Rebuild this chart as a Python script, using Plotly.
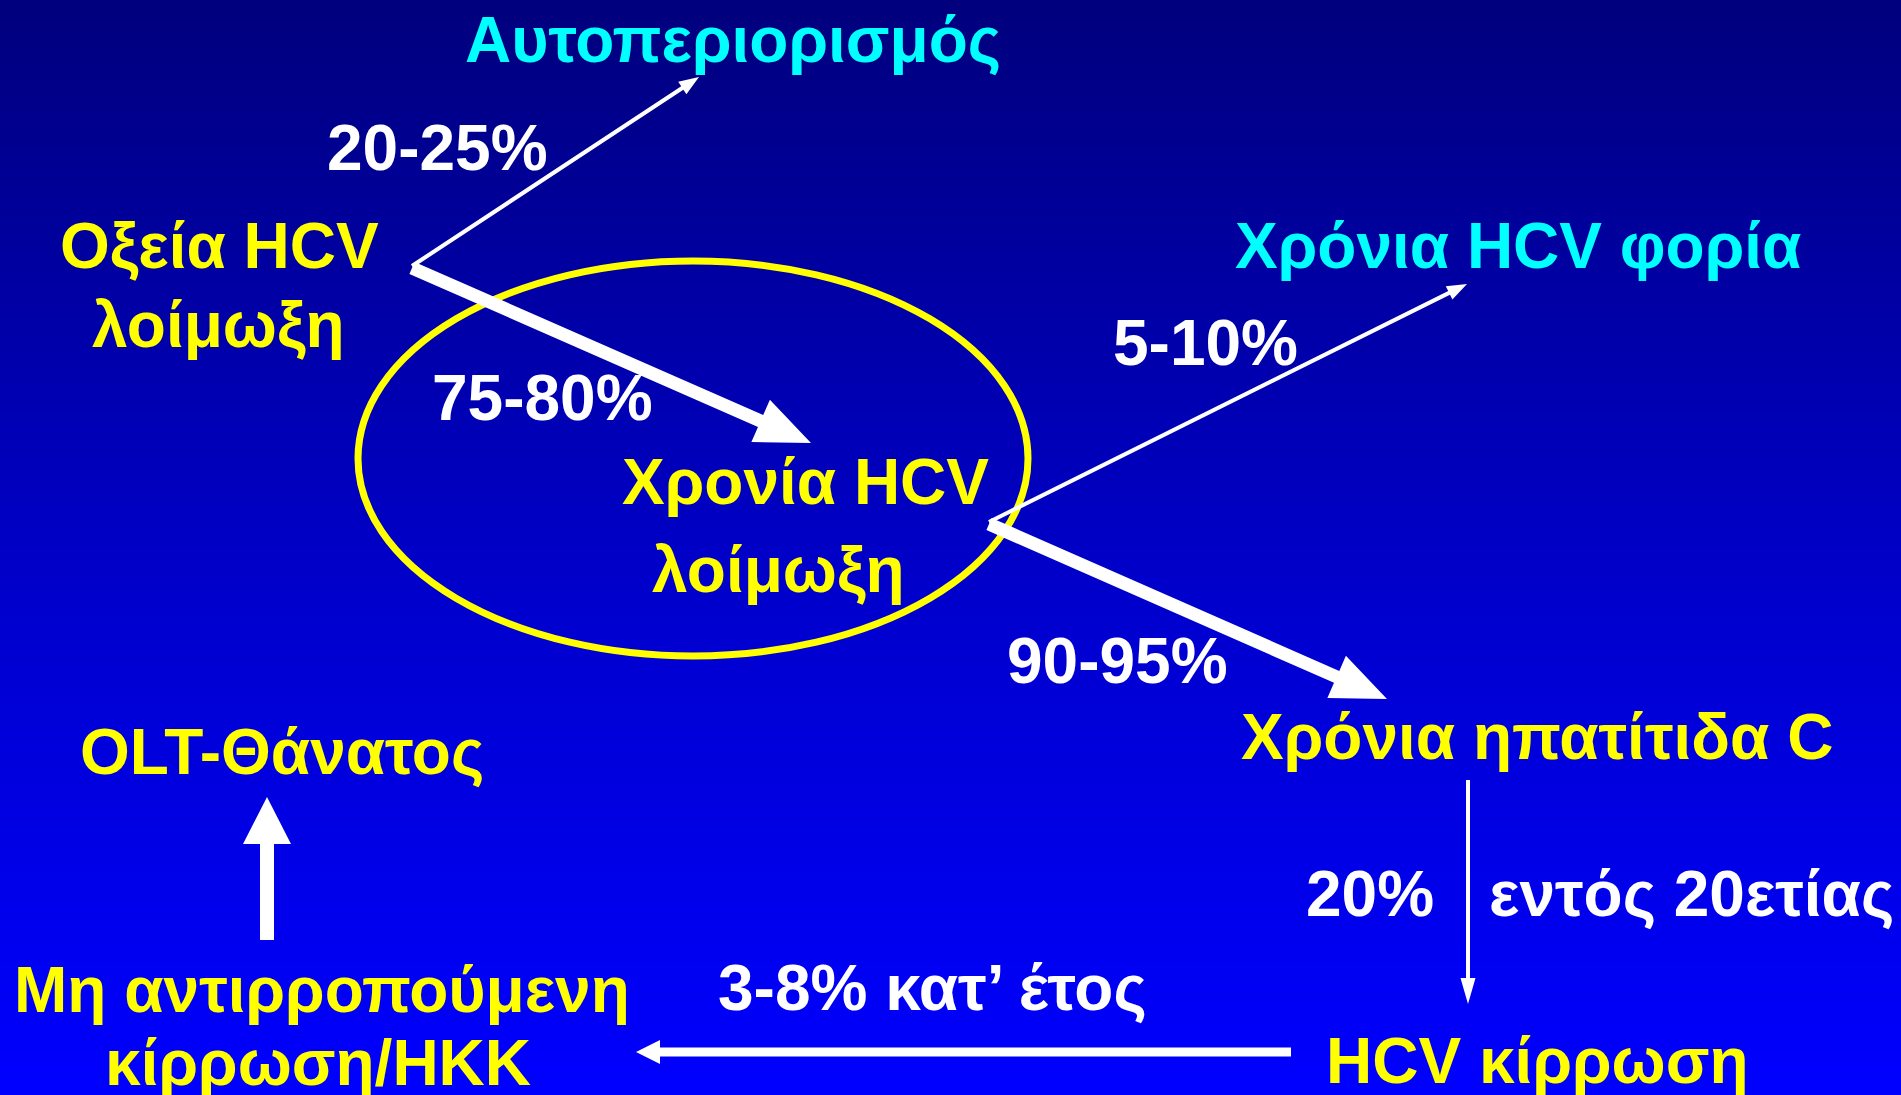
import numpy as np
import plotly.graph_objects as go

W, H = 1901, 1095

# ---- diagram content ----
node_labels = ["Αυτοπεριορισμός", "Οξεία HCV<br>λοίμωξη", "Χρόνια HCV φορία",
               "Χρονία HCV<br>λοίμωξη", "Χρόνια ηπατίτιδα C", "HCV κίρρωση",
               "Μη αντιρροπούμενη<br>κίρρωση/ΗΚΚ", "OLT-Θάνατος"]
node_kind = ["outcome", "state", "outcome", "state", "state", "state", "state", "state"]

rate_labels = ["20-25%", "75-80%", "5-10%", "90-95%", "20%", "εντός 20ετίας", "3-8% κατ’ έτος"]

# ---- layout (pixel positions) ----
# per-line centres of each node label
node_line_x = [[733], [219, 218], [1518], [805, 778], [1537], [1537], [322, 318], [282]]
node_line_y = [[40], [246, 325], [246], [482, 570], [737], [1061], [990, 1063], [752]]
rate_x = [437, 542, 1205, 1117, 1370, 1691, 932]
rate_y = [148, 398, 343, 661, 894, 894, 988]

# arrows: start, end, shaft width, head length, head width
arrows = [
    ((412, 266), (699, 77), 4, 20, 15),
    ((412, 268), (811, 443), 13, 55, 46),
    ((989, 522), (1467, 284), 4, 20, 15),
    ((989, 524), (1387, 699), 13, 55, 46),
    ((1468, 780), (1468, 1004), 4, 26, 15),
    ((1291, 1052), (636, 1052), 9, 24, 24),
    ((267, 940), (267, 797), 14, 47, 48),
]
ellipse_box = (358, 261, 1028, 656)

YELLOW = "#FFFF00"
CYAN = "#00FFFF"
WHITE = "#FFFFFF"
FONT = "Liberation Sans, Arial, sans-serif"
FS = 64

fig = go.Figure()

# gradient background
ys = np.linspace(0, H, 60)
fig.add_trace(go.Heatmap(
    x=[0, W], y=ys, z=[[v, v] for v in ys / H],
    colorscale=[[0, "rgb(0,0,125)"], [0.55, "rgb(0,0,205)"], [1, "rgb(0,0,255)"]],
    zmin=0, zmax=1, showscale=False, hoverinfo="skip", zsmooth="best"))

shapes = []
shapes.append(dict(type="circle", xref="x", yref="y",
                   x0=ellipse_box[0], y0=ellipse_box[1], x1=ellipse_box[2], y1=ellipse_box[3],
                   line=dict(color=YELLOW, width=7)))

def arrow_path(p0, p1, w, hl, hw):
    p0 = np.array(p0, float); p1 = np.array(p1, float)
    d = p1 - p0
    u = d / np.hypot(*d)
    n = np.array([-u[1], u[0]])
    b = p1 - u * hl
    pts = [p0 + n * w / 2, b + n * w / 2, b + n * hw / 2, p1,
           b - n * hw / 2, b - n * w / 2, p0 - n * w / 2]
    return "M " + " L ".join(f"{x:.1f},{y:.1f}" for x, y in pts) + " Z"

for p0, p1, w, hl, hw in arrows:
    shapes.append(dict(type="path", xref="x", yref="y", path=arrow_path(p0, p1, w, hl, hw),
                       fillcolor=WHITE, line=dict(width=0)))

annotations = []
for lab, kind, xs, yl in zip(node_labels, node_kind, node_line_x, node_line_y):
    for line, x, y in zip(lab.split("<br>"), xs, yl):
        annotations.append(dict(x=x, y=y, xref="x", yref="y", text=line, showarrow=False,
                                xanchor="center", yanchor="middle",
                                font=dict(family=FONT, size=FS, weight="bold",
                                          color=CYAN if kind == "outcome" else YELLOW)))
for lab, x, y in zip(rate_labels, rate_x, rate_y):
    annotations.append(dict(x=x, y=y, xref="x", yref="y", text=lab, showarrow=False,
                            xanchor="center", yanchor="middle",
                            font=dict(family=FONT, size=FS, weight="bold", color=WHITE)))

fig.update_layout(
    width=W, height=H, margin=dict(l=0, r=0, t=0, b=0),
    paper_bgcolor="rgb(0,0,200)", plot_bgcolor="rgb(0,0,200)",
    xaxis=dict(range=[0, W], visible=False, fixedrange=True),
    yaxis=dict(range=[H, 0], visible=False, fixedrange=True),
    shapes=shapes, annotations=annotations, showlegend=False,
)

fig.write_html("out.html", config={"displayModeBar": False},
               post_script="document.body.style.margin='0';document.body.style.overflow='hidden';")
